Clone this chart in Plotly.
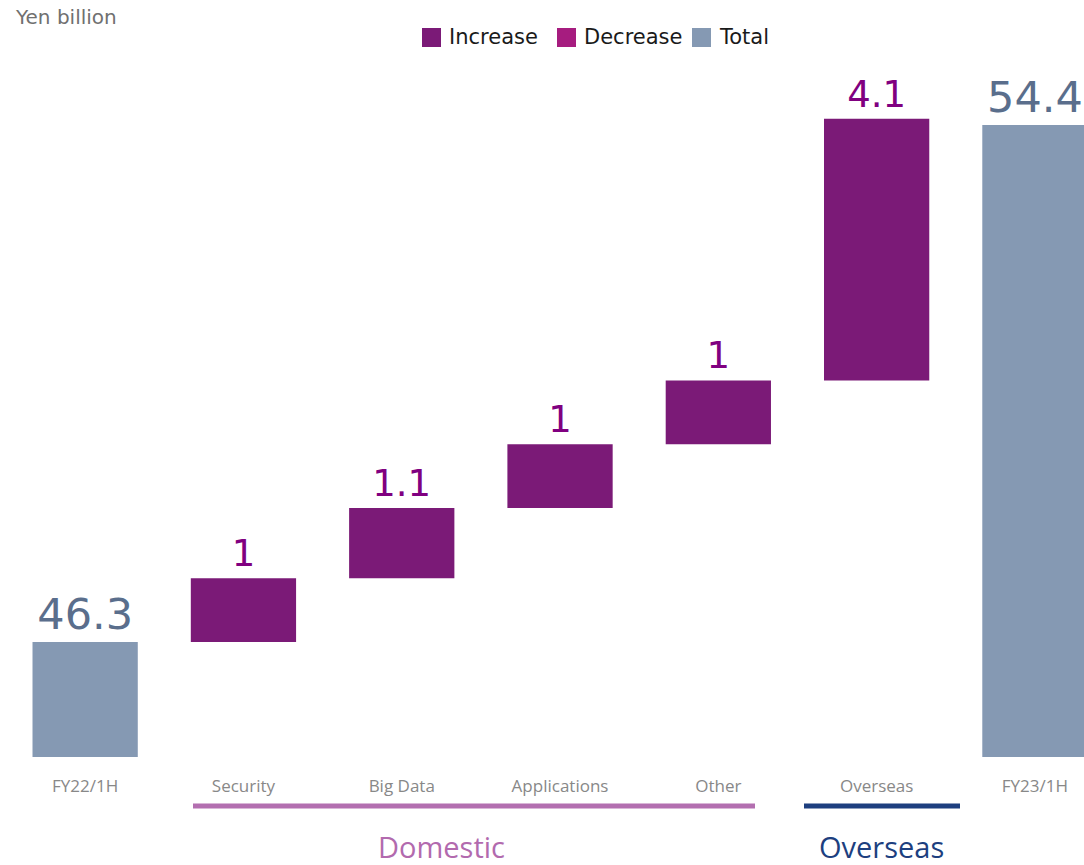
import plotly.graph_objects as go

categories = ["FY22/1H", "Security", "Big Data", "Applications", "Other", "Overseas", "FY23/1H"]
values = [46.3, 1.0, 1.1, 1.0, 1.0, 4.1, 54.4]
measures = ["absolute", "relative", "relative", "relative", "relative", "relative", "absolute"]
labels = ["46.3", "1", "1.1", "1", "1", "4.1", "54.4"]
legend_names = ["Increase", "Decrease", "Total"]
group_names = ["Domestic", "Overseas"]

C_INC = "#7b1a77"
C_DEC = "#a61c7f"
C_TOT = "#8599b3"
C_TOT_TXT = "#5a6e8c"
C_INC_TXT = "#800080"

W, H = 1084, 865
L, R, T, B = 6, 0, 60, 108
PW, PH = W - L - R, H - T - B


def px(xp):
    return (xp - L) / PW


def py(yp):
    return (H - B - yp) / PH


text_colors = [C_TOT_TXT if m == "absolute" else C_INC_TXT for m in measures]
text_sizes = [43 if m == "absolute" else 37 for m in measures]

fig = go.Figure()
fig.add_trace(go.Waterfall(
    x=categories, y=values, measure=measures,
    text=labels, textposition="outside",
    textfont=dict(family="DejaVu Sans", color=text_colors, size=text_sizes),
    increasing=dict(marker=dict(color=C_INC)),
    decreasing=dict(marker=dict(color=C_DEC)),
    totals=dict(marker=dict(color=C_TOT)),
    connector=dict(visible=False),
    showlegend=False, cliponaxis=False,
))

# manual legend (larger squares than plotly's legend allows)
leg_x = [422, 557, 692]
for name, col, x0 in zip(legend_names, [C_INC, C_DEC, C_TOT], leg_x):
    fig.add_shape(type="rect", xref="paper", yref="paper",
                  x0=px(x0), x1=px(x0 + 19), y0=py(47), y1=py(28),
                  fillcolor=col, line=dict(width=0))
    fig.add_annotation(x=px(x0 + 25), y=py(37), xref="paper", yref="paper", text=name,
                       showarrow=False, xanchor="left", yanchor="middle",
                       font=dict(family="DejaVu Sans", size=21, color="#1a1a1a"))

# group brackets
group_spans = [(193, 755), (804, 960)]
group_text_x = [441, 881]
group_colors = ["#b36fb0", "#1d3f7f"]
group_text_colors = ["#b26aae", "#1d3f7f"]
for name, (a, b), tx, lc, tc in zip(group_names, group_spans, group_text_x, group_colors, group_text_colors):
    fig.add_shape(type="line", xref="paper", yref="paper", x0=px(a), x1=px(b), y0=py(806), y1=py(806),
                  line=dict(color=lc, width=5))
    fig.add_annotation(x=px(tx), xref="paper", y=py(846), yref="paper", text=name,
                       showarrow=False, xanchor="center", yanchor="middle",
                       font=dict(family="Open Sans", size=29, color=tc))

fig.add_annotation(x=px(13), xref="paper", y=py(17), yref="paper", text="Yen billion", showarrow=False,
                   xanchor="left", yanchor="middle",
                   font=dict(family="DejaVu Sans", size=20, color="#707070"))

fig.update_layout(
    width=W, height=H,
    margin=dict(l=L, r=R, t=T, b=B),
    paper_bgcolor="white", plot_bgcolor="white",
    waterfallgap=0.335,
    xaxis=dict(type="category", range=[-0.5, 6.31], showgrid=False, zeroline=False, showline=False,
               ticks="", tickfont=dict(family="Open Sans", size=17, color="#888888"),
               ticklabelstandoff=17),
    yaxis=dict(range=[44.5, 55.42], visible=False),
    showlegend=False,
    font=dict(family="DejaVu Sans"),
)
fig.write_html("out.html", config={"displayModeBar": False},
               post_script="document.body.style.margin='0';document.body.style.overflow='hidden';")
